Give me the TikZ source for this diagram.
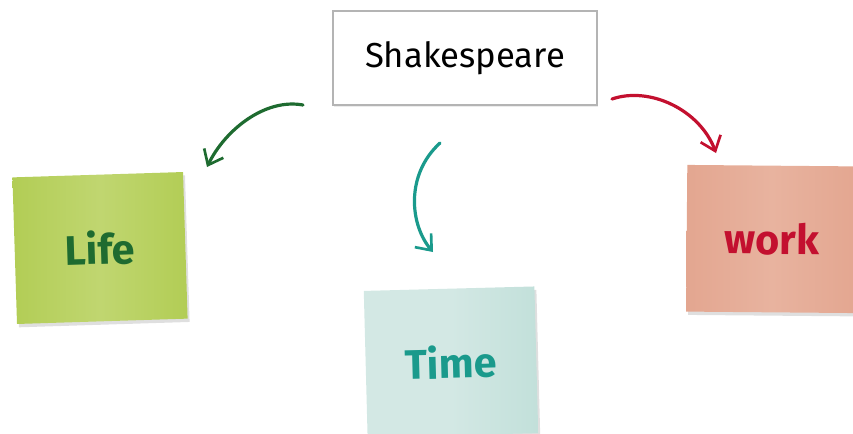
\documentclass[tikz,border=0pt]{standalone}
\usepackage{fontspec}
\setmainfont{Fira Sans}
\usetikzlibrary{arrows.meta,shadows,shadings}
\definecolor{lifegreen}{HTML}{1E6B30}
\definecolor{lifefill}{HTML}{C0D670}
\definecolor{lifefilldark}{HTML}{B2CD55}
\definecolor{timeteal}{HTML}{1A9A8C}
\definecolor{timefill}{HTML}{D3E8E4}
\definecolor{timefilldark}{HTML}{C2E0DA}
\definecolor{workred}{HTML}{C3102F}
\definecolor{workfill}{HTML}{E8B39F}
\definecolor{workfilldark}{HTML}{E3A690}
\definecolor{boxgray}{HTML}{B4B4B4}
\tikzset{
  titlebox/.style={draw=boxgray, line width=1.6pt, fill=white, minimum width=198pt, minimum height=71pt,
    drop shadow={opacity=0.15, shadow xshift=1pt, shadow yshift=-1pt}, font=\fontsize{26}{30}\selectfont},
  note/.style={minimum width=128pt, minimum height=110pt, inner sep=0pt,
    drop shadow={opacity=0.25, shadow xshift=1.5pt, shadow yshift=-2.5pt}, font=\bfseries\fontsize{31}{36}\selectfont},
  conn/.style={line width=2.4pt, line cap=round, -{Straight Barb[length=10pt,width=16pt,line width=2pt]}}
}
\begin{document}
\begin{tikzpicture}[x=0.75pt,y=-0.75pt]
\useasboundingbox (0,0) rectangle (853,433);
\node[titlebox] (shk) at (465,58) {Shakespeare};
\node[note, left color=lifefilldark, right color=lifefilldark, middle color=lifefill, text=lifegreen, rotate=1.8] (life) at (100,248) {Life};
\node[note, left color=timefill, right color=timefilldark, middle color=timefill, text=timeteal, rotate=1.5] (time) at (451,362) {Time};
\node[note, left color=workfilldark, right color=workfilldark, middle color=workfill, text=workred, rotate=-0.5] (work) at (772,239) {work};
\coordinate (ls) at (303,105);
\coordinate (le) at (207,167);
\coordinate (ts) at (440,143);
\coordinate (te) at (433,252);
\coordinate (ws) at (612,99);
\coordinate (we) at (716,153);
\draw[conn, lifegreen] (ls) .. controls (265,98) and (225,130) .. (le);
\draw[conn, timeteal] (ts) .. controls (405,175) and (410,225) .. (te);
\draw[conn, workred] (ws) .. controls (650,86) and (700,110) .. (we);
\end{tikzpicture}
\end{document}
